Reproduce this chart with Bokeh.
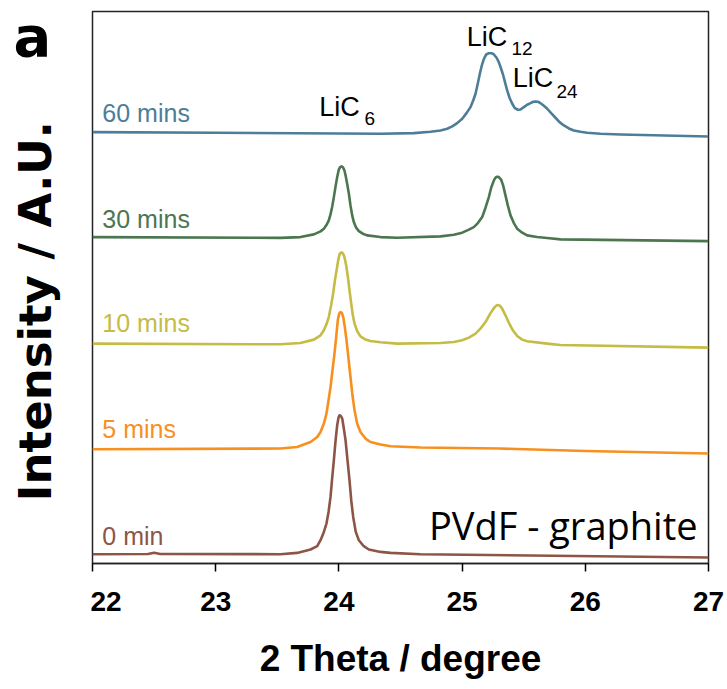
import math
from bokeh.plotting import figure
from bokeh.layouts import row
from bokeh.models import Range1d, FixedTicker
from bokeh.core.properties import value
from bokeh.embed import file_html
from bokeh.resources import INLINE

# ---- data (2 Theta in degree, stacked intensity in a.u.) ----
x_60 = [22.0, 23.0, 24.338, 24.609, 24.744, 24.825, 24.879, 24.920, 24.960, 25.001, 25.036,
        25.068, 25.090, 25.109, 25.128, 25.144, 25.160, 25.177, 25.196, 25.217, 25.239,
        25.258, 25.280, 25.298, 25.317, 25.334, 25.350, 25.366, 25.385, 25.407, 25.428,
        25.453, 25.474, 25.501, 25.528, 25.556, 25.577, 25.596, 25.615, 25.637, 25.664,
        25.691, 25.723, 25.758, 25.791, 25.826, 25.867, 25.907, 25.961, 26.015, 26.124,
        26.286, 27.0]
y_60 = [431.6, 431.0, 430.0, 430.6, 432.0, 433.3, 435.0, 437.3, 440.6, 445.0, 450.6,
        456.6, 463.3, 470.0, 480.6, 490.0, 498.3, 505.0, 509.3, 510.6, 510.6,
        509.3, 506.0, 501.6, 495.0, 488.3, 480.6, 473.3, 466.0, 460.0, 455.6,
        454.0, 454.3, 456.6, 459.0, 460.6, 462.0, 462.3, 462.0, 460.6, 458.0,
        455.0, 450.6, 446.0, 441.6, 438.3, 435.3, 433.3, 432.0, 431.0, 430.0,
        429.3, 427.3]

x_30 = [22.0, 23.526, 23.688, 23.797, 23.851, 23.878, 23.899, 23.918, 23.932, 23.945, 23.959,
        23.972, 23.986, 23.999, 24.010, 24.021, 24.032, 24.045, 24.056, 24.067, 24.081,
        24.094, 24.108, 24.121, 24.140, 24.162, 24.194, 24.229, 24.338, 24.473,
        24.825, 24.933, 25.001, 25.055, 25.095, 25.128, 25.163, 25.190, 25.217, 25.236,
        25.258, 25.271, 25.285, 25.298, 25.317, 25.333, 25.352, 25.371, 25.393, 25.420,
        25.447, 25.488, 25.528, 25.609, 25.690, 25.799, 27.0]
y_30 = [326.6, 325.8, 326.6, 329.3, 332.3, 335.0, 338.6, 343.3, 349.3, 356.6, 366.6,
        376.6, 386.6, 394.0, 396.6, 397.3, 396.6, 393.3, 387.3, 380.0, 370.0,
        358.3, 348.3, 341.6, 336.0, 332.6, 330.0, 328.3, 326.6, 326.0,
        327.3, 329.0, 331.0, 334.0, 336.6, 340.6, 346.6, 356.0, 366.6, 376.0,
        383.3, 386.0, 387.0, 386.6, 384.0, 378.3, 368.3, 358.3, 348.3, 340.6,
        335.0, 331.0, 328.3, 326.6, 325.6, 324.3, 322.6]

x_10 = [22.0, 23.526, 23.688, 23.797, 23.851, 23.878, 23.899, 23.918, 23.937, 23.953, 23.967,
        23.981, 23.994, 24.005, 24.016, 24.027, 24.037, 24.048, 24.059, 24.073, 24.086,
        24.100, 24.113, 24.127, 24.148, 24.175, 24.216, 24.256, 24.338, 24.473,
        24.825, 24.933, 25.001, 25.055, 25.109, 25.149, 25.190, 25.225, 25.258, 25.277,
        25.290, 25.306, 25.325, 25.352, 25.379, 25.412, 25.447, 25.488, 25.528, 25.690,
        25.799, 27.0]
y_10 = [220.0, 219.3, 220.6, 224.0, 228.3, 233.3, 239.3, 246.6, 258.3, 270.0, 282.6,
        293.3, 303.3, 309.3, 311.0, 311.0, 309.3, 305.0, 298.3, 286.6, 273.3,
        260.0, 248.3, 240.0, 232.6, 227.3, 224.0, 222.6, 221.3, 220.0,
        220.6, 221.6, 223.3, 226.0, 230.0, 235.0, 241.6, 249.3, 255.6, 258.0,
        258.6, 258.0, 255.0, 248.3, 241.0, 233.3, 227.6, 224.0, 222.3, 220.0,
        218.6, 216.0]

x_5 = [22.0, 23.526, 23.661, 23.770, 23.824, 23.851, 23.878, 23.899, 23.916, 23.932, 23.948,
       23.964, 23.978, 23.991, 24.002, 24.013, 24.024, 24.035, 24.048, 24.062, 24.078,
       24.094, 24.110, 24.127, 24.148, 24.175, 24.216, 24.256, 24.338, 24.419, 24.662,
       25.3, 26.0, 27.0]
y_5 = [114.3, 115.0, 116.6, 121.6, 126.6, 131.6, 140.0, 150.0, 163.3, 176.6, 193.3,
       210.0, 226.6, 243.3, 250.0, 251.6, 250.6, 246.6, 236.6, 223.3, 205.0,
       186.6, 168.3, 153.3, 140.0, 131.6, 125.0, 121.6, 119.0, 117.3, 116.0,
       115.0, 112.5, 110.0]

x_0 = [22.0, 22.45, 22.5, 22.55, 23.526, 23.661, 23.770, 23.824, 23.851, 23.878, 23.899,
       23.916, 23.932, 23.945, 23.959, 23.972, 23.986, 23.997, 24.005, 24.016, 24.027,
       24.040, 24.054, 24.070, 24.086, 24.100, 24.116, 24.137, 24.162, 24.202, 24.243,
       24.338, 24.419, 24.662, 27.0]
y_0 = [9.3, 9.5, 10.8, 9.5, 9.3, 10.6, 14.0, 17.3, 23.3, 31.6, 40.0,
       51.6, 66.6, 85.0, 103.3, 121.6, 138.3, 146.0, 148.3, 147.6, 145.0,
       135.0, 123.3, 103.3, 83.3, 63.3, 46.6, 31.6, 23.3, 17.3, 14.0,
       11.6, 10.6, 9.3, 6.0]

series_names = ["60 mins", "30 mins", "10 mins", "5 mins", "0 min"]
series_x = [x_60, x_30, x_10, x_5, x_0]
series_y = [y_60, y_30, y_10, y_5, y_0]
colors = ["#4E7D98", "#4B7650", "#C4BC45", "#F7901E", "#8C5545"]
label_y = [450.6, 344.6, 240.6, 135.0, 27.6]

x_ticks = [22, 23, 24, 25, 26, 27]

# ---- left strip with panel letter and y-axis title ----
side = figure(width=90, height=689, output_backend="svg", toolbar_location=None,
              x_range=Range1d(0, 90), y_range=Range1d(0, 689),
              min_border=0, min_border_left=0, min_border_right=0,
              min_border_top=0, min_border_bottom=0)
side.outline_line_color = None
side.xaxis.visible = False
side.yaxis.visible = False
side.xgrid.visible = False
side.ygrid.visible = False
side.text(x=[13], y=[698], text=["a"], text_color="black",
          text_font=value("DejaVu Sans"), text_font_style="bold",
          text_font_size="56px", text_align="left", text_baseline="top")
side.text(x=[35], y=[315], text=["Intensity / A.U."], angle=[math.pi / 2],
          text_color="black", text_font=value("DejaVu Sans"), text_font_style="bold",
          text_font_size="45px", text_align="center", text_baseline="middle")

# ---- main plot ----
p = figure(width=637, height=689, output_backend="svg", toolbar_location=None,
           x_range=Range1d(22, 27), y_range=Range1d(0, 552.3),
           min_border_left=2, min_border_right=19, min_border_top=11, min_border_bottom=126)

p.background_fill_color = "white"
p.border_fill_color = "white"
p.outline_line_color = "#222222"
p.outline_line_width = 1.5
p.xgrid.visible = False
p.ygrid.visible = False
p.yaxis.visible = False

for xs, ys, c in zip(series_x, series_y, colors):
    p.line(xs, ys, line_color=c, line_width=2.6, line_join="round")

for name, c, ly in zip(series_names, colors, label_y):
    p.text(x=[22.08], y=[ly], text=[name], text_color=c,
           text_font=value("Liberation Sans"), text_font_size="25px",
           text_align="left", text_baseline="alphabetic")

# peak annotations
peak_main = ["LiC", "LiC", "LiC"]
peak_sub = ["6", "12", "24"]
main_x = [24.005, 25.202, 25.575]
main_y = [456.3, 526.3, 485.3]
sub_x = [24.208, 25.401, 25.766]
sub_y = [444.8, 515.3, 472.3]
p.text(x=main_x, y=main_y, text=peak_main, text_color="black",
       text_font=value("Liberation Sans"), text_font_size="27px",
       text_align="center", text_baseline="alphabetic")
p.text(x=sub_x, y=sub_y, text=peak_sub, text_color="black",
       text_font=value("Liberation Sans"), text_font_size="19px",
       text_align="left", text_baseline="alphabetic")

p.text(x=[26.911], y=[38.3], text=["PVdF - graphite"], text_color="black",
       text_font=value("Open Sans"), text_font_size="38px",
       text_align="right", text_baseline="alphabetic")

ax = p.xaxis[0]
ax.ticker = FixedTicker(ticks=x_ticks)
ax.minor_tick_line_color = None
ax.major_tick_out = 8
ax.major_tick_in = 0
ax.major_tick_line_width = 1.5
ax.axis_line_width = 1.5
ax.axis_line_color = "#222222"
ax.major_label_text_font = "Liberation Sans"
ax.major_label_text_font_style = "bold"
ax.major_label_text_font_size = "28px"
ax.major_label_text_color = "black"
ax.major_label_standoff = 20
ax.axis_label = "2 Theta / degree"
ax.axis_label_text_font = "Liberation Sans"
ax.axis_label_text_font_style = "bold"
ax.axis_label_text_font_size = "37px"
ax.axis_label_text_color = "black"
ax.axis_label_standoff = 24

layout = row(side, p, spacing=0)
open("out.html", "w").write(file_html(layout, INLINE))
